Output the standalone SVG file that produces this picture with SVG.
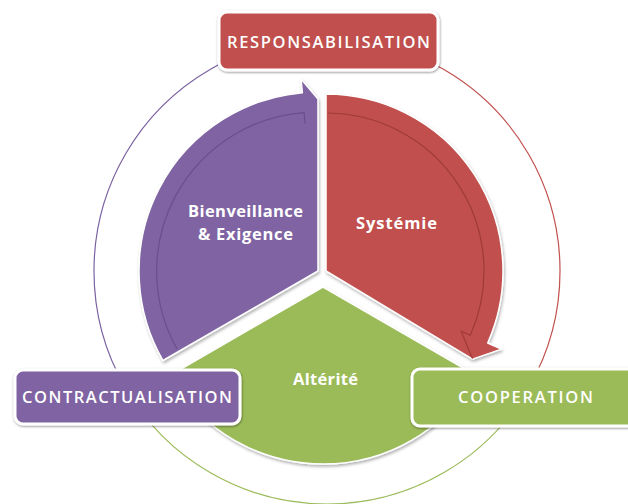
<svg xmlns="http://www.w3.org/2000/svg" width="628" height="504" viewBox="0 0 628 504">
  <defs>
    <filter id="shSector" x="-10%" y="-10%" width="120%" height="120%">
      <feDropShadow dx="1" dy="2" stdDeviation="1.8" flood-color="#000" flood-opacity="0.3"/>
    </filter>
    <filter id="shBox" x="-10%" y="-20%" width="120%" height="140%">
      <feDropShadow dx="0.5" dy="1" stdDeviation="1.3" flood-color="#000" flood-opacity="0.45"/>
    </filter>
  </defs>
  <style>
    .ring { fill: none; stroke-width: 1.2; }
    .sector { stroke: #ffffff; stroke-width: 1.5; stroke-linejoin: round; filter: url(#shSector); }
    .inner { fill: none; stroke-width: 1.2; stroke-opacity: 0.65; }
    .box { stroke: #ffffff; stroke-width: 3; filter: url(#shBox); }
    .boxlabel { font-family: "Open Sans", "Liberation Sans", sans-serif; font-size: 16.5px; font-weight: 600; fill: #ffffff; text-anchor: middle; }
    .seglabel { font-family: "Open Sans", "Liberation Sans", sans-serif; font-size: 16.5px; font-weight: 700; fill: #ffffff; text-anchor: middle; }
  </style>

  <g id="connectors">
    <path class="ring" stroke="#7b62a0" d="M125.2,387.5 A233,233 0 0 1 327,38"/>
    <path class="ring" stroke="#c0504d" d="M327,38 A233,233 0 0 1 528.8,387.5"/>
    <path class="ring" stroke="#9bbb59" d="M528.8,387.5 A233,233 0 0 1 125.2,387.5"/>
  </g>

  <g id="node-alterite">
    <path class="sector" fill="#9bbb59" d="M323,287 L476.3,375.5 A177,177 0 0 1 169.7,375.5 Z"/>
    <text class="seglabel" x="325.5" y="385" textLength="65" lengthAdjust="spacing">Altérité</text>
  </g>

  <g id="node-bienveillance">
    <path class="sector" fill="#8064a2" d="M318,271 L163,360.5 A179,179 0 0 1 302.4,92.7 L301,79 L318,99 Z"/>
    <path class="inner" stroke="#5d4580" d="M177,349 A159,159 0 0 1 304.1,112.6 L305.1,123.6"/>
    <text class="seglabel" x="245.5" y="217" textLength="115" lengthAdjust="spacing">Bienveillance</text>
    <text class="seglabel" x="245.5" y="240" textLength="95" lengthAdjust="spacing">&amp; Exigence</text>
  </g>

  <g id="node-systemie">
    <path class="sector" fill="#c0504d" d="M326,271 L326,94 A177,177 0 0 1 487.7,343 L501.4,349.1 L472.6,359.1 Z"/>
    <path class="inner" stroke="#8e302d" d="M328,113 A158,158 0 0 1 470.3,335.3 L461.2,331.2 L472.6,359.1"/>
    <text class="seglabel" x="396.5" y="229" textLength="81" lengthAdjust="spacing">Systémie</text>
  </g>

  <g id="node-responsabilisation">
    <rect class="box" x="219" y="12" width="219" height="58" rx="8" fill="#c0504d"/>
    <text class="boxlabel" x="328.5" y="48" textLength="203" lengthAdjust="spacing">RESPONSABILISATION</text>
  </g>

  <g id="node-contractualisation">
    <rect class="box" x="15" y="370" width="225" height="54" rx="8" fill="#8064a2"/>
    <text class="boxlabel" x="127" y="403" textLength="210" lengthAdjust="spacing">CONTRACTUALISATION</text>
  </g>

  <g id="node-cooperation">
    <rect class="box" x="412" y="369" width="240" height="57" rx="8" fill="#9bbb59"/>
    <text class="boxlabel" x="525.5" y="403" textLength="135" lengthAdjust="spacing">COOPERATION</text>
  </g>
</svg>
